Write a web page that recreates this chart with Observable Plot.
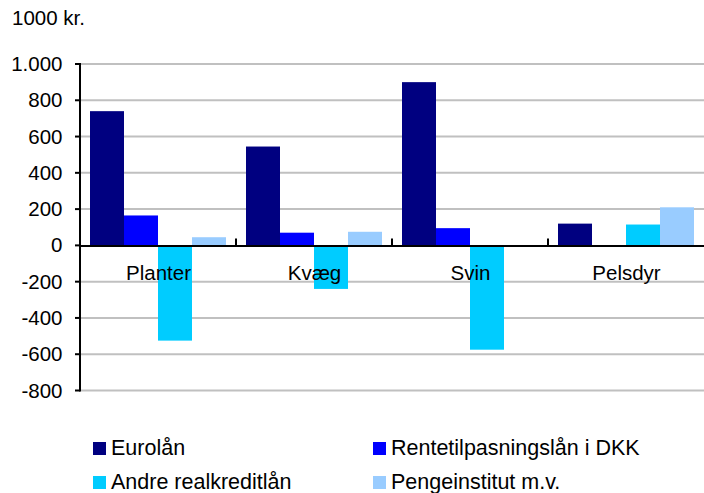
<!DOCTYPE html>
<html><head><meta charset="utf-8">
<script src="https://cdn.jsdelivr.net/npm/d3@7"></script>
<script src="https://cdn.jsdelivr.net/npm/@observablehq/plot@0.6"></script>
<style>
body{margin:0;background:#fff;font-family:"Liberation Sans",Arial,sans-serif;color:#000;}
#wrap{position:relative;width:704px;height:493px;overflow:hidden;}
#title{height:40px;font-size:20.5px;line-height:36px;padding-left:12px;box-sizing:border-box;}
#chart svg{display:block;}
#legend{position:relative;height:73px;}
.item{position:absolute;display:flex;align-items:center;font-size:21.5px;line-height:22px;white-space:nowrap;}
.sw{width:13px;height:13px;margin-right:5px;flex:none;}
</style></head><body>
<div id="wrap"><div id="title">1000 kr.</div><div id="chart"></div><div id="legend"></div></div>
<script>
const categories = ["Planter", "Kvæg", "Svin", "Pelsdyr"];
const seriesNames = ["Eurolån", "Rentetilpasningslån i DKK", "Andre realkreditlån", "Pengeinstitut m.v."];
const eurolaan = [740, 545, 900, 120];
const rentetilpasning = [165, 70, 95, 0];
const andreRealkredit = [-525, -240, -575, 115];
const pengeinstitut = [45, 75, 0, 210];
const seriesColors = ["#000080", "#0000FF", "#00CCFF", "#99CCFF"];
const yTicks = [-800, -600, -400, -200, 0, 200, 400, 600, 800, 1000];

const seriesValues = [eurolaan, rentetilpasning, andreRealkredit, pengeinstitut];
const data = [];
categories.forEach((c, i) => seriesNames.forEach((s, j) => {
  if (seriesValues[j][i] !== 0) data.push({category: c, series: s, value: seriesValues[j][i]});
}));

const fmt = d => (d < 0 ? "-" : "") + d3.format(",")(Math.abs(d)).replace(/,/g, ".");

const W = 704, ML = 80, MR = 0;
const chart = Plot.plot({
  width: W,
  height: 380,
  marginLeft: ML,
  marginRight: MR,
  marginTop: 24,
  marginBottom: 29.5,
  style: {fontFamily: "'Liberation Sans', Arial, sans-serif", fontSize: "20.5px", color: "#000", background: "#fff"},
  fx: {domain: categories, padding: 0, axis: null},
  x: {domain: seriesNames, paddingInner: 0, paddingOuter: 0.26, axis: null},
  y: {domain: [-800, 1000], ticks: yTicks, tickFormat: fmt, tickSize: 0, tickPadding: 18, label: null},
  color: {domain: seriesNames, range: seriesColors},
  marks: [
    Plot.barY(data, {fx: "category", x: "series", y: "value", fill: "series"}),
    Plot.ruleY([0], {stroke: "#000", strokeWidth: 2}),
    Plot.text(categories, {fx: d => d, y: () => 0, text: d => d, dy: 28, fontSize: 20.5, fill: "#000"})
  ]
});
document.getElementById("chart").appendChild(chart);

// gridlines, y axis line, tick marks and category dividers from the chart's own scales
const ysd = chart.scale("y");
const y = d3.scaleLinear(ysd.domain, ysd.range);
const fxsd = chart.scale("fx");
const fx = d3.scaleBand(fxsd.domain, fxsd.range).padding(0);
const svg = d3.select(chart);
const xEnd = fxsd.range[1];
const grid = svg.insert("g", ":first-child");
grid.selectAll("line").data(yTicks.filter(t => t !== 0)).join("line")
  .attr("x1", ML).attr("x2", xEnd).attr("y1", d => y(d)).attr("y2", d => y(d))
  .attr("stroke", "#c0c0c0").attr("stroke-width", 2);
const deco = svg.append("g").attr("stroke", "#000").attr("stroke-width", 2);
deco.append("line").attr("x1", ML).attr("x2", ML)
  .attr("y1", y(d3.max(yTicks)) - 1).attr("y2", y(d3.min(yTicks)) + 1);
deco.selectAll(".tk").data(yTicks).join("line").attr("class", "tk")
  .attr("x1", ML - 5).attr("x2", ML).attr("y1", d => y(d)).attr("y2", d => y(d));
deco.selectAll(".dv").data(categories.slice(1)).join("line").attr("class", "dv")
  .attr("x1", d => fx(d)).attr("x2", d => fx(d)).attr("y1", y(0) - 7).attr("y2", y(0));

const legend = document.getElementById("legend");
const cols = [93, 373];
const rows = [17, 51];
seriesNames.forEach((s, i) => {
  const item = document.createElement("div");
  item.className = "item";
  item.style.left = cols[i % 2] + "px";
  item.style.top = rows[Math.floor(i / 2)] + "px";
  const sw = document.createElement("span");
  sw.className = "sw";
  sw.style.background = seriesColors[i];
  item.appendChild(sw);
  item.appendChild(document.createTextNode(s));
  legend.appendChild(item);
});
</script>
</body></html>
